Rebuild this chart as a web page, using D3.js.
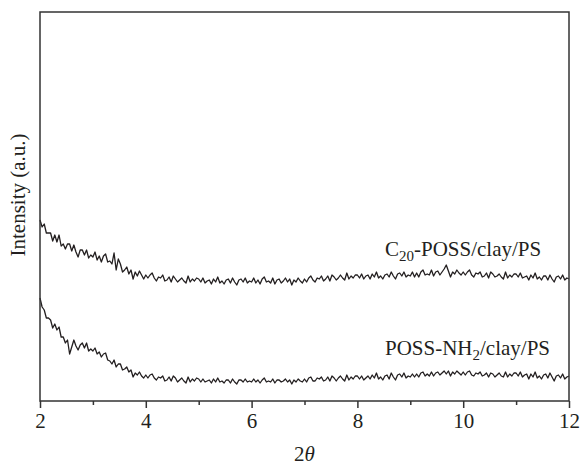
<!DOCTYPE html>
<html>
<head>
<meta charset="utf-8">
<script src="https://cdn.jsdelivr.net/npm/d3@7"></script>
<style>
  body { margin: 0; background: #fff; }
  text { font-family: "Liberation Serif", "Times New Roman", serif; fill: #231f20; }
</style>
</head>
<body>
<script>
// scan angles (2 theta, degrees), 0.04 step
const twoTheta = [
  2.00, 2.04, 2.08, 2.12, 2.16, 2.20, 2.24, 2.28, 2.32, 2.36, 2.40, 2.44, 2.48, 2.52, 2.56, 2.60, 2.64, 2.68, 2.72, 2.76, 2.80, 2.84, 2.88, 2.92, 2.96,
  3.00, 3.04, 3.08, 3.12, 3.16, 3.20, 3.24, 3.28, 3.32, 3.36, 3.40, 3.44, 3.48, 3.52, 3.56, 3.60, 3.64, 3.68, 3.72, 3.76, 3.80, 3.84, 3.88, 3.92, 3.96,
  4.00, 4.04, 4.08, 4.12, 4.16, 4.20, 4.24, 4.28, 4.32, 4.36, 4.40, 4.44, 4.48, 4.52, 4.56, 4.60, 4.64, 4.68, 4.72, 4.76, 4.80, 4.84, 4.88, 4.92, 4.96,
  5.00, 5.04, 5.08, 5.12, 5.16, 5.20, 5.24, 5.28, 5.32, 5.36, 5.40, 5.44, 5.48, 5.52, 5.56, 5.60, 5.64, 5.68, 5.72, 5.76, 5.80, 5.84, 5.88, 5.92, 5.96,
  6.00, 6.04, 6.08, 6.12, 6.16, 6.20, 6.24, 6.28, 6.32, 6.36, 6.40, 6.44, 6.48, 6.52, 6.56, 6.60, 6.64, 6.68, 6.72, 6.76, 6.80, 6.84, 6.88, 6.92, 6.96,
  7.00, 7.04, 7.08, 7.12, 7.16, 7.20, 7.24, 7.28, 7.32, 7.36, 7.40, 7.44, 7.48, 7.52, 7.56, 7.60, 7.64, 7.68, 7.72, 7.76, 7.80, 7.84, 7.88, 7.92, 7.96,
  8.00, 8.04, 8.08, 8.12, 8.16, 8.20, 8.24, 8.28, 8.32, 8.36, 8.40, 8.44, 8.48, 8.52, 8.56, 8.60, 8.64, 8.68, 8.72, 8.76, 8.80, 8.84, 8.88, 8.92, 8.96,
  9.00, 9.04, 9.08, 9.12, 9.16, 9.20, 9.24, 9.28, 9.32, 9.36, 9.40, 9.44, 9.48, 9.52, 9.56, 9.60, 9.64, 9.68, 9.72, 9.76, 9.80, 9.84, 9.88, 9.92, 9.96,
  10.00, 10.04, 10.08, 10.12, 10.16, 10.20, 10.24, 10.28, 10.32, 10.36, 10.40, 10.44, 10.48, 10.52, 10.56, 10.60, 10.64, 10.68, 10.72, 10.76, 10.80, 10.84, 10.88, 10.92, 10.96,
  11.00, 11.04, 11.08, 11.12, 11.16, 11.20, 11.24, 11.28, 11.32, 11.36, 11.40, 11.44, 11.48, 11.52, 11.56, 11.60, 11.64, 11.68, 11.72, 11.76, 11.80, 11.84, 11.88, 11.92, 11.96,
  12.00
]

// C20-POSS/clay/PS (offset trace, a.u.)
const c20Poss = [
  181, 174, 177, 168, 168, 168, 160, 166, 159, 166, 155, 157, 152, 157, 157, 150, 156, 149, 144, 151, 151, 146, 151, 143, 146,
  144, 149, 141, 145, 139, 145, 147, 139, 140, 137, 148, 131, 142, 137, 129, 131, 134, 127, 131, 122, 129, 125, 130, 126, 122,
  126, 123, 126, 128, 123, 120, 124, 123, 126, 120, 121, 124, 119, 125, 122, 119, 121, 123, 120, 118, 125, 119, 122, 120, 123,
  122, 119, 123, 118, 120, 121, 117, 122, 119, 124, 118, 120, 117, 121, 122, 118, 123, 119, 116, 121, 122, 119, 123, 118, 120,
  119, 123, 118, 121, 117, 122, 124, 119, 120, 118, 123, 117, 121, 122, 118, 120, 123, 119, 122, 116, 121, 119, 123, 120, 118,
  122, 119, 123, 125, 121, 119, 123, 122, 125, 120, 122, 125, 120, 126, 124, 121, 123, 126, 123, 121, 128, 122, 125, 123, 126,
  126, 123, 127, 122, 125, 126, 122, 127, 124, 129, 123, 125, 122, 126, 127, 124, 129, 125, 122, 127, 128, 125, 129, 124, 126,
  125, 129, 124, 128, 124, 129, 131, 126, 127, 126, 131, 125, 129, 130, 126, 129, 132, 136, 130, 124, 129, 127, 131, 128, 126,
  129, 126, 129, 131, 126, 124, 128, 127, 129, 124, 125, 128, 123, 129, 127, 124, 125, 127, 124, 122, 129, 123, 126, 124, 127,
  127, 124, 128, 123, 124, 125, 121, 126, 123, 128, 122, 124, 121, 125, 125, 121, 126, 122, 119, 124, 125, 122, 126, 121, 123,
  122
]

// POSS-NH2/clay/PS
const nh2Poss = [
  103, 94, 91, 83, 83, 81, 73, 77, 71, 74, 64, 64, 58, 61, 47, 54, 61, 55, 51, 56, 58, 53, 58, 50, 52,
  50, 53, 47, 49, 44, 47, 48, 41, 40, 37, 41, 34, 37, 37, 31, 32, 34, 29, 31, 24, 28, 26, 29, 25, 23,
  26, 23, 26, 27, 23, 21, 24, 23, 25, 20, 21, 24, 20, 25, 23, 19, 21, 23, 20, 18, 24, 19, 22, 20, 23,
  22, 19, 22, 19, 20, 21, 18, 22, 19, 23, 19, 20, 18, 21, 21, 18, 22, 19, 17, 21, 21, 19, 22, 19, 20,
  19, 22, 19, 21, 18, 21, 23, 19, 20, 19, 22, 18, 21, 21, 19, 20, 22, 19, 21, 17, 21, 19, 22, 20, 19,
  22, 19, 23, 24, 20, 20, 23, 22, 24, 20, 21, 24, 20, 25, 23, 20, 23, 25, 22, 20, 26, 21, 24, 22, 25,
  25, 22, 25, 21, 23, 25, 22, 26, 23, 28, 22, 24, 21, 25, 26, 22, 28, 24, 21, 26, 27, 24, 28, 23, 25,
  24, 27, 24, 27, 24, 28, 29, 25, 27, 25, 29, 25, 28, 29, 26, 28, 30, 27, 30, 25, 29, 27, 30, 28, 26,
  29, 26, 29, 30, 26, 25, 28, 27, 29, 25, 26, 28, 24, 28, 27, 24, 26, 28, 25, 24, 29, 24, 27, 25, 28,
  28, 25, 29, 24, 26, 27, 22, 27, 24, 29, 23, 25, 22, 26, 27, 23, 28, 24, 20, 25, 26, 23, 27, 22, 24,
  25
]

const majorTicks = [2, 4, 6, 8, 10, 12]
const minorTicks = [3, 5, 7, 9, 11]

const width = 581, height = 465
const margin = {top: 12, right: 12, bottom: 64, left: 40}

const svg = d3.select("body").append("svg")
  .attr("width", width)
  .attr("height", height)

let x = d3.scaleLinear()
  .domain([2, 12])
  .range([margin.left, width - margin.right])

let y = d3.scaleLinear()
  .domain([0, 389])
  .range([height - margin.bottom, margin.top])

const axisColor = "#333"
const y0 = height - margin.bottom

// traces
const series = [c20Poss, nh2Poss]
let line = d3.line()
  .x((d, i) => x(twoTheta[i]))
  .y(d => y(d))

series.forEach(s => {
  svg.append("path")
    .datum(s)
    .attr("fill", "none")
    .attr("stroke", "#231f20")
    .attr("stroke-width", 1.3)
    .attr("stroke-linejoin", "round")
    .attr("d", line)
})

// frame
svg.append("rect")
  .attr("x", margin.left)
  .attr("y", margin.top)
  .attr("width", width - margin.left - margin.right)
  .attr("height", y0 - margin.top)
  .attr("fill", "none")
  .attr("stroke", axisColor)
  .attr("stroke-width", 1.5)

// x axis, ticks outside
let xAxis = svg.append("g")
  .attr("transform", "translate(0," + y0 + ")")
  .call(d3.axisBottom(x).tickValues(majorTicks).tickSize(7).tickPadding(5).tickFormat(d3.format("d")))
xAxis.select(".domain").remove()
xAxis.selectAll(".tick line").attr("stroke", axisColor).attr("stroke-width", 1.5)
xAxis.selectAll(".tick text")
  .attr("font-size", "21px")
  .attr("fill", "#231f20")

let xMinor = svg.append("g")
  .attr("transform", "translate(0," + y0 + ")")
  .call(d3.axisBottom(x).tickValues(minorTicks).tickSize(4).tickFormat(""))
xMinor.select(".domain").remove()
xMinor.selectAll(".tick line").attr("stroke", axisColor).attr("stroke-width", 1.5)

// axis titles
let xt = svg.append("text")
  .attr("x", x(7))
  .attr("y", 461)
  .attr("text-anchor", "middle")
  .attr("font-size", "21px")
xt.append("tspan").text("2")
xt.append("tspan").attr("font-style", "italic").text("θ")

svg.append("text")
  .attr("transform", "translate(25,195) rotate(-90)")
  .attr("text-anchor", "middle")
  .attr("font-size", "21px")
  .text("Intensity (a.u.)")

// trace labels
let l1 = svg.append("text")
  .attr("x", 385)
  .attr("y", 256)
  .attr("font-size", "21px")
l1.append("tspan").text("C")
l1.append("tspan").attr("font-size", "15px").attr("dy", 5).text("20")
l1.append("tspan").attr("dy", -5).text("-POSS/clay/PS")

let l2 = svg.append("text")
  .attr("x", 385)
  .attr("y", 355)
  .attr("font-size", "21px")
l2.append("tspan").text("POSS-NH")
l2.append("tspan").attr("font-size", "15px").attr("dy", 5).text("2")
l2.append("tspan").attr("dy", -5).text("/clay/PS")
</script>
</body>
</html>
